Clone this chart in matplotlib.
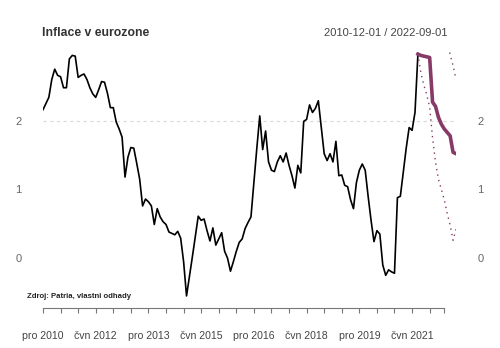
import matplotlib
matplotlib.use("Agg")
import matplotlib.pyplot as plt

plt.rcParams['font.family'] = ['Liberation Sans', 'DejaVu Sans']

# mezirocni inflace v eurozone, mesicne od pro 2010 (index 0)
inflace = [
    2.16, 2.25, 2.34, 2.60, 2.75, 2.66, 2.64, 2.48, 2.48, 2.90, 2.95, 2.94,
    2.63, 2.66, 2.68, 2.60, 2.48, 2.39, 2.34, 2.45, 2.57, 2.56, 2.40, 2.19,
    2.19, 1.98, 1.88, 1.76, 1.18, 1.47, 1.61, 1.60, 1.38, 1.15, 0.76, 0.86,
    0.82, 0.76, 0.49, 0.72, 0.60, 0.53, 0.49, 0.38, 0.36, 0.34, 0.39, 0.29,
    -0.05, -0.55, -0.27, 0.02, 0.32, 0.61, 0.55, 0.57, 0.40, 0.25, 0.44, 0.19,
    0.28, 0.37, 0.10, 0.00, -0.19, -0.05, 0.10, 0.23, 0.28, 0.43, 0.52, 0.60,
    1.10, 1.60, 2.07, 1.58, 1.85, 1.40, 1.28, 1.26, 1.40, 1.49, 1.40, 1.53,
    1.35, 1.20, 1.02, 1.35, 1.24, 1.99, 2.02, 2.23, 2.12, 2.18, 2.29, 1.90,
    1.52, 1.42, 1.52, 1.40, 1.70, 1.20, 1.21, 1.06, 1.04, 0.85, 0.72, 1.10,
    1.28, 1.37, 1.28, 0.90, 0.55, 0.24, 0.40, 0.35, -0.10, -0.25, -0.17, -0.20,
    -0.22, 0.88, 0.90, 1.25, 1.60, 1.90, 1.86, 2.12, 2.97,
]

# prognoza (od indexu 128)
prognoza = [2.97, 2.95, 2.94, 2.93, 2.92, 2.27, 2.21, 2.05, 1.95, 1.88, 1.83, 1.78, 1.54, 1.52]
dolni_mez = [2.97, 2.70, 2.52, 2.38, 2.20, 1.75, 1.40, 1.15, 1.00, 0.85, 0.65, 0.48, 0.26, 0.42]
# horni mez - viditelny jen konec, zbytek je nad grafem
horni_mez = [3.15, 2.96, 2.80, 2.60]

tick_labels = ["pro 2010", "čvn 2012", "pro 2013", "čvn 2015",
               "pro 2016", "čvn 2018", "pro 2019", "čvn 2021"]

n = len(inflace)
x_hist = list(range(n))
x_prog = list(range(n - 1, n - 1 + len(prognoza)))
x_horni = x_prog[-len(horni_mez):]

fig = plt.figure(figsize=(5, 3.48), dpi=100)
ax = fig.add_axes([0.086, 0.1437, 0.826, 0.7069])

fialova = '#873a68'
ax.axhline(2, color='#d9d9d9', lw=0.8, ls=(0, (3, 3)))
ax.plot(x_hist, inflace, color='black', lw=1.2)
ax.plot(x_prog, prognoza, color=fialova, lw=2.6)
ax.plot(x_prog, dolni_mez, color=fialova, lw=1.0, ls=(0, (1, 3)))
ax.plot(x_horni, horni_mez, color=fialova, lw=1.0, ls=(0, (1, 3)))

ax.set_xlim(0, x_prog[-1])
ax.set_ylim(-0.58, 3.0)

for s in ['top', 'left', 'right']:
    ax.spines[s].set_visible(False)
ax.spines['bottom'].set_position(('outward', 7.5))
ax.spines['bottom'].set_bounds(0, 137)
ax.spines['bottom'].set_color('#777777')
ax.spines['bottom'].set_linewidth(0.8)

ax.set_xticks([i * 18 for i in range(len(tick_labels))])
ax.set_xticklabels(tick_labels)
ax.set_xticks([i * 6 for i in range(23)] + [137], minor=True)
ax.tick_params(axis='x', which='both', direction='out', length=3.5, width=0.8,
               color='#777777')
ax.tick_params(axis='x', which='major', pad=13, labelsize=7.6, labelcolor='#444444')

ax.set_yticks([0, 1, 2])
ax.tick_params(axis='y', left=False, right=False, labelleft=True, labelright=True,
               pad=12, labelsize=8, labelcolor='#666666')

fig.text(0.084, 0.906, "Inflace v eurozone", fontsize=8.8, fontweight='bold',
         color='#333333', va='center', ha='left')
fig.text(0.896, 0.906, "2010-12-01 / 2022-09-01", fontsize=8.0,
         color='#444444', va='center', ha='right')
fig.text(0.054, 0.147, "Zdroj: Patria, vlastni odhady", fontsize=5.6,
         fontweight='bold', color='#222222', va='center', ha='left')

fig.savefig("out.png", dpi=100)
